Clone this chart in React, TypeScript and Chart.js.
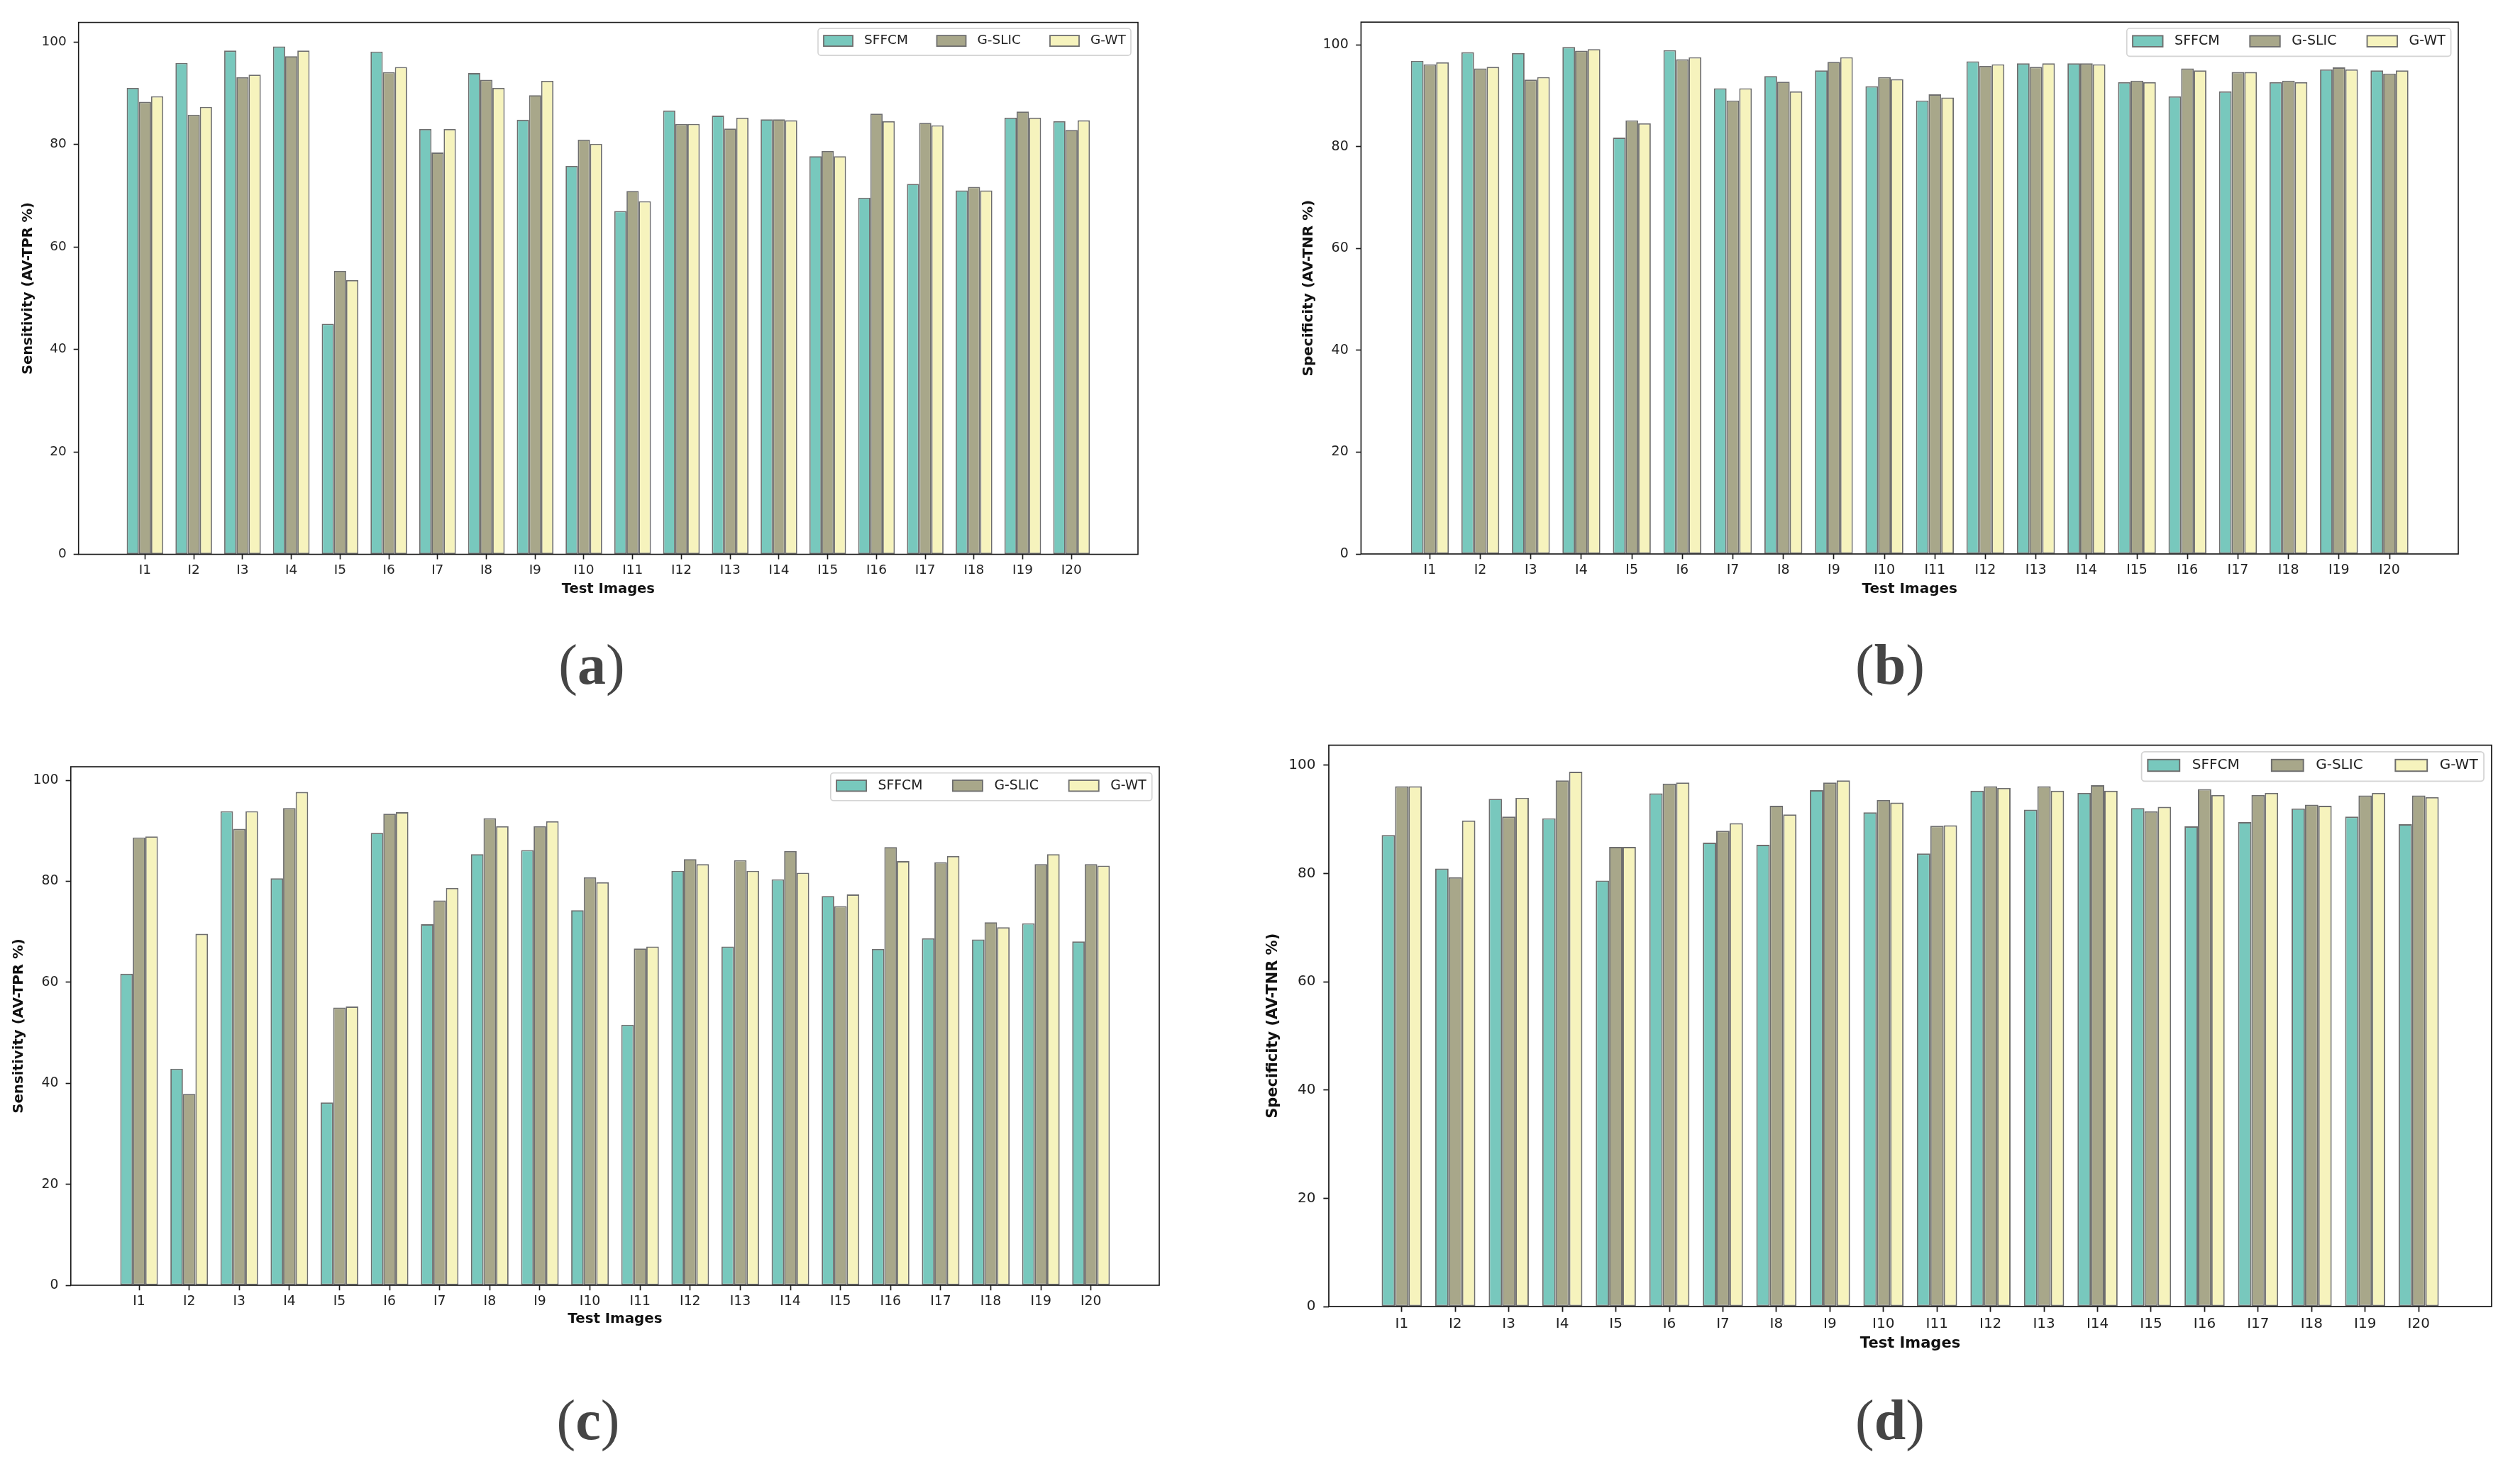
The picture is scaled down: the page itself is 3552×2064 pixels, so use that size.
import React, { useEffect, useRef } from 'react';
import { Chart, registerables } from 'chart.js';

Chart.register(...registerables);

// ---------------- data ----------------
const categories = ['I1', 'I2', 'I3', 'I4', 'I5', 'I6', 'I7', 'I8', 'I9', 'I10', 'I11', 'I12', 'I13', 'I14', 'I15', 'I16', 'I17', 'I18', 'I19', 'I20'];
const categoryPositions = [1, 2, 3, 4, 5, 6, 7, 8, 9, 10, 11, 12, 13, 14, 15, 16, 17, 18, 19, 20];
const seriesNames = ['SFFCM', 'G-SLIC', 'G-WT'];
const seriesColors = ['#78C8BD', '#A8A78A', '#F6F3BD'];
const edgeColor = '#6E6E6E';
const yTickValues = [0, 20, 40, 60, 80, 100];
const xTitle = 'Test Images';
const captionLetters = ['a', 'b', 'c', 'd'];
const yTitles = ['Sensitivity (AV-TPR %)', 'Specificity (AV-TNR %)', 'Sensitivity (AV-TPR %)', 'Specificity (AV-TNR %)'];

// (a) Sensitivity
const aSFFCM = [91.0, 95.9, 98.3, 99.1, 45.0, 98.1, 83.0, 93.9, 84.8, 75.8, 67.0, 86.6, 85.6, 84.9, 77.7, 69.6, 72.3, 71.0, 85.2, 84.5];
const aGSLIC = [88.3, 85.8, 93.1, 97.2, 55.3, 94.1, 78.4, 92.6, 89.6, 80.9, 70.9, 84.0, 83.1, 84.9, 78.7, 86.0, 84.2, 71.7, 86.4, 82.8];
const aGWT = [89.4, 87.3, 93.6, 98.3, 53.5, 95.1, 83.0, 91.0, 92.4, 80.1, 68.9, 84.0, 85.2, 84.7, 77.7, 84.5, 83.7, 71.0, 85.2, 84.7];

// (b) Specificity
const bSFFCM = [96.9, 98.6, 98.4, 99.6, 81.8, 99.0, 91.5, 93.9, 95.0, 91.9, 89.1, 96.8, 96.4, 96.4, 92.7, 89.9, 90.9, 92.7, 95.2, 95.0];
const bGSLIC = [96.2, 95.4, 93.2, 98.9, 85.2, 97.2, 89.1, 92.8, 96.7, 93.7, 90.3, 95.9, 95.7, 96.4, 93.0, 95.4, 94.7, 93.0, 95.6, 94.4];
const bGWT = [96.6, 95.7, 93.7, 99.2, 84.6, 97.6, 91.5, 90.9, 97.6, 93.3, 89.7, 96.2, 96.4, 96.2, 92.7, 95.0, 94.7, 92.7, 95.2, 95.0];

// (c) Sensitivity
const cSFFCM = [61.7, 42.9, 93.9, 80.6, 36.2, 89.6, 71.5, 85.4, 86.2, 74.3, 51.6, 82.1, 67.1, 80.4, 77.1, 66.6, 68.7, 68.5, 71.7, 68.1];
const cGSLIC = [88.7, 37.9, 90.4, 94.5, 55.0, 93.4, 76.2, 92.5, 90.9, 80.8, 66.7, 84.4, 84.2, 86.0, 75.1, 86.8, 83.8, 71.9, 83.4, 83.4];
const cGWT = [88.9, 69.6, 93.9, 97.7, 55.2, 93.7, 78.7, 90.9, 91.9, 79.8, 67.1, 83.4, 82.1, 81.7, 77.4, 84.0, 85.0, 70.9, 85.4, 83.1];

// (d) Specificity
const dSFFCM = [87.1, 80.9, 93.8, 90.2, 78.7, 94.8, 85.7, 85.3, 95.4, 91.3, 83.7, 95.3, 91.8, 94.9, 92.1, 88.7, 89.5, 92.0, 90.5, 89.1];
const dGSLIC = [96.1, 79.3, 90.5, 97.2, 84.9, 96.6, 87.9, 92.5, 96.8, 93.6, 88.8, 96.1, 96.1, 96.3, 91.5, 95.6, 94.5, 92.7, 94.4, 94.4];
const dGWT = [96.1, 89.8, 94.0, 98.8, 84.9, 96.8, 89.3, 90.9, 97.2, 93.1, 88.9, 95.8, 95.3, 95.3, 92.3, 94.5, 94.9, 92.5, 94.9, 94.1];

const yMaxes = [103.8, 104.5, 102.7, 103.7];

// ---------------- layout (pixels on the page) ----------------
type PanelSpec = {
  letter: string;
  yTitle: string;
  series: number[][];
  ymax: number;
  left: number; right: number; top: number; bottom: number;
  s: number; fs: number; lfs: number;
  ylabelX: number; xlabelY: number;
  capX: number; capY: number;
};

const panels: PanelSpec[] = [
  { letter: captionLetters[0], yTitle: yTitles[0], series: [aSFFCM, aGSLIC, aGWT], ymax: yMaxes[0],
    left: 110.7, right: 1604, top: 31.6, bottom: 781.5, s: 1, fs: 18.5, lfs: 19.5,
    ylabelX: 40, xlabelY: 831, capX: 834, capY: 945 },
  { letter: captionLetters[1], yTitle: yTitles[1], series: [bSFFCM, bGSLIC, bGWT], ymax: yMaxes[1],
    left: 1918.4, right: 3465, top: 31.2, bottom: 781, s: 1.036, fs: 19, lfs: 20,
    ylabelX: 1845, xlabelY: 831, capX: 2664, capY: 945 },
  { letter: captionLetters[2], yTitle: yTitles[2], series: [cSFFCM, cGSLIC, cGWT], ymax: yMaxes[2],
    left: 99.8, right: 1634, top: 1081, bottom: 1812, s: 1.027, fs: 18.8, lfs: 19.8,
    ylabelX: 27, xlabelY: 1860, capX: 829, capY: 2010 },
  { letter: captionLetters[3], yTitle: yTitles[3], series: [dSFFCM, dGSLIC, dGWT], ymax: yMaxes[3],
    left: 1873, right: 3512, top: 1050.6, bottom: 1842, s: 1.094, fs: 20, lfs: 21,
    ylabelX: 1795, xlabelY: 1894, capX: 2664, capY: 2010 },
];

const FONT = '"DejaVu Sans", "Liberation Sans", sans-serif';
const X_MARGIN = 1.3625;

const framePlugin = {
  id: 'frame',
  afterDatasetsDraw(chart: any, _args: any, opts: any) {
    const { ctx, chartArea } = chart;
    ctx.save();
    ctx.strokeStyle = '#1a1a1a';
    ctx.lineWidth = opts.lw;
    ctx.strokeRect(chartArea.left, chartArea.top, chartArea.right - chartArea.left, chartArea.bottom - chartArea.top);
    ctx.restore();
  },
};

const mplLegendPlugin = {
  id: 'mplLegend',
  afterDraw(chart: any, _args: any, opts: any) {
    const { ctx, chartArea } = chart;
    const s = opts.s;
    const fs = opts.fs;
    const fr = chartArea.right - 10 * s;
    const fl = fr - 441 * s;
    const ft = chartArea.top + 8.5 * s;
    const fh = 38 * s;
    ctx.save();
    ctx.beginPath();
    if (ctx.roundRect) ctx.roundRect(fl, ft, fr - fl, fh, 4 * s);
    else ctx.rect(fl, ft, fr - fl, fh);
    ctx.fillStyle = 'rgba(255,255,255,0.85)';
    ctx.fill();
    ctx.strokeStyle = '#d4d4d4';
    ctx.lineWidth = 1.6 * s;
    ctx.stroke();
    chart.data.datasets.forEach((ds: any, i: number) => {
      const px = fl + 8 * s + i * 159.5 * s;
      const py = ft + 10 * s;
      const pw = 41 * s;
      const ph = 15 * s;
      ctx.fillStyle = ds.backgroundColor;
      ctx.fillRect(px, py, pw, ph);
      ctx.strokeStyle = ds.borderColor;
      ctx.lineWidth = 1.8 * s;
      ctx.strokeRect(px, py, pw, ph);
      ctx.fillStyle = '#222';
      ctx.font = `${fs}px ${FONT}`;
      ctx.textBaseline = 'middle';
      ctx.textAlign = 'left';
      ctx.fillText(ds.label, px + 57 * s, py + ph / 2);
    });
    ctx.restore();
  },
};

function Panel({ spec }: { spec: PanelSpec }) {
  const ref = useRef<HTMLCanvasElement>(null);
  const CL = Math.round(spec.ylabelX - 0.6 * spec.lfs);
  const CT = Math.round(spec.top - 30);
  const CR = Math.round(spec.right + 30);
  const CB = Math.round(spec.xlabelY + 0.6 * spec.lfs);
  const W = CR - CL;
  const H = CB - CT;

  useEffect(() => {
    const s = spec.s;
    const gridCfg = {
      display: true,
      drawOnChartArea: false,
      drawTicks: true,
      tickLength: 7 * s,
      tickWidth: 1.6 * s,
      tickColor: '#1a1a1a',
      offset: false,
    };
    const chart = new Chart(ref.current as HTMLCanvasElement, {
      type: 'bar',
      data: {
        labels: categoryPositions,
        datasets: spec.series.map((vals, i) => ({
          label: seriesNames[i],
          data: vals,
          backgroundColor: seriesColors[i],
          borderColor: edgeColor,
          borderWidth: 1.8 * s,
          borderSkipped: false,
          barPercentage: 1,
          categoryPercentage: 0.75,
        })),
      },
      options: {
        responsive: false,
        maintainAspectRatio: false,
        animation: false,
        devicePixelRatio: 1,
        layout: { padding: { left: 0, top: spec.top - CT, right: CR - spec.right, bottom: 0 } },
        plugins: {
          legend: { display: false },
          tooltip: { enabled: false },
          frame: { lw: 1.6 * s },
          mplLegend: { s, fs: spec.fs },
        } as any,
        scales: {
          x: {
            type: 'linear',
            offset: false,
            min: 1 - X_MARGIN,
            max: categories.length + X_MARGIN,
            ticks: {
              stepSize: 1,
              autoSkip: false,
              maxRotation: 0,
              minRotation: 0,
              padding: 4.6 * s,
              color: '#222',
              font: { family: FONT, size: spec.fs },
              callback: (v: any) => categories[Math.round(Number(v)) - 1] ?? '',
            },
            afterBuildTicks: (scale: any) => {
              scale.ticks = categoryPositions.map((p) => ({ value: p }));
            },
            afterFit: (scale: any) => {
              scale.height = CB - spec.bottom;
            },
            grid: gridCfg,
            border: { display: false },
            title: {
              display: true,
              text: xTitle,
              color: '#111',
              font: { family: FONT, size: spec.lfs, weight: 'bold' },
              padding: 0,
            },
          } as any,
          y: {
            type: 'linear',
            min: 0,
            max: spec.ymax,
            ticks: {
              stepSize: 20,
              padding: 10 * s,
              color: '#222',
              font: { family: FONT, size: spec.fs },
            },
            afterBuildTicks: (scale: any) => {
              scale.ticks = yTickValues.map((v) => ({ value: v }));
            },
            afterFit: (scale: any) => {
              scale.width = spec.left - CL;
            },
            grid: gridCfg,
            border: { display: false },
            title: {
              display: true,
              text: spec.yTitle,
              color: '#111',
              font: { family: FONT, size: spec.lfs, weight: 'bold' },
              padding: 0,
            },
          } as any,
        },
      },
      plugins: [framePlugin, mplLegendPlugin] as any,
    });
    return () => chart.destroy();
  }, []);

  return (
    <canvas
      ref={ref}
      width={W}
      height={H}
      style={{ position: 'absolute', left: CL, top: CT, width: W, height: H, display: 'block' }}
    />
  );
}

function Caption({ spec }: { spec: PanelSpec }) {
  return (
    <div
      style={{
        position: 'absolute',
        left: spec.capX,
        top: spec.capY - 8,
        transform: 'translate(-50%, -50%)',
        fontFamily: '"Liberation Serif", "DejaVu Serif", serif',
        fontSize: 80,
        lineHeight: 1,
        color: '#454545',
        whiteSpace: 'nowrap',
      }}
    >
      (<span style={{ fontWeight: 'bold' }}>{spec.letter}</span>)
    </div>
  );
}

export default function App() {
  return (
    <div
      style={{
        position: 'absolute',
        left: 0,
        top: 0,
        width: 3552,
        height: 2064,
        background: '#ffffff',
        overflow: 'hidden',
      }}
    >
      {panels.map((p) => (
        <React.Fragment key={p.letter}>
          <Panel spec={p} />
          <Caption spec={p} />
        </React.Fragment>
      ))}
    </div>
  );
}
